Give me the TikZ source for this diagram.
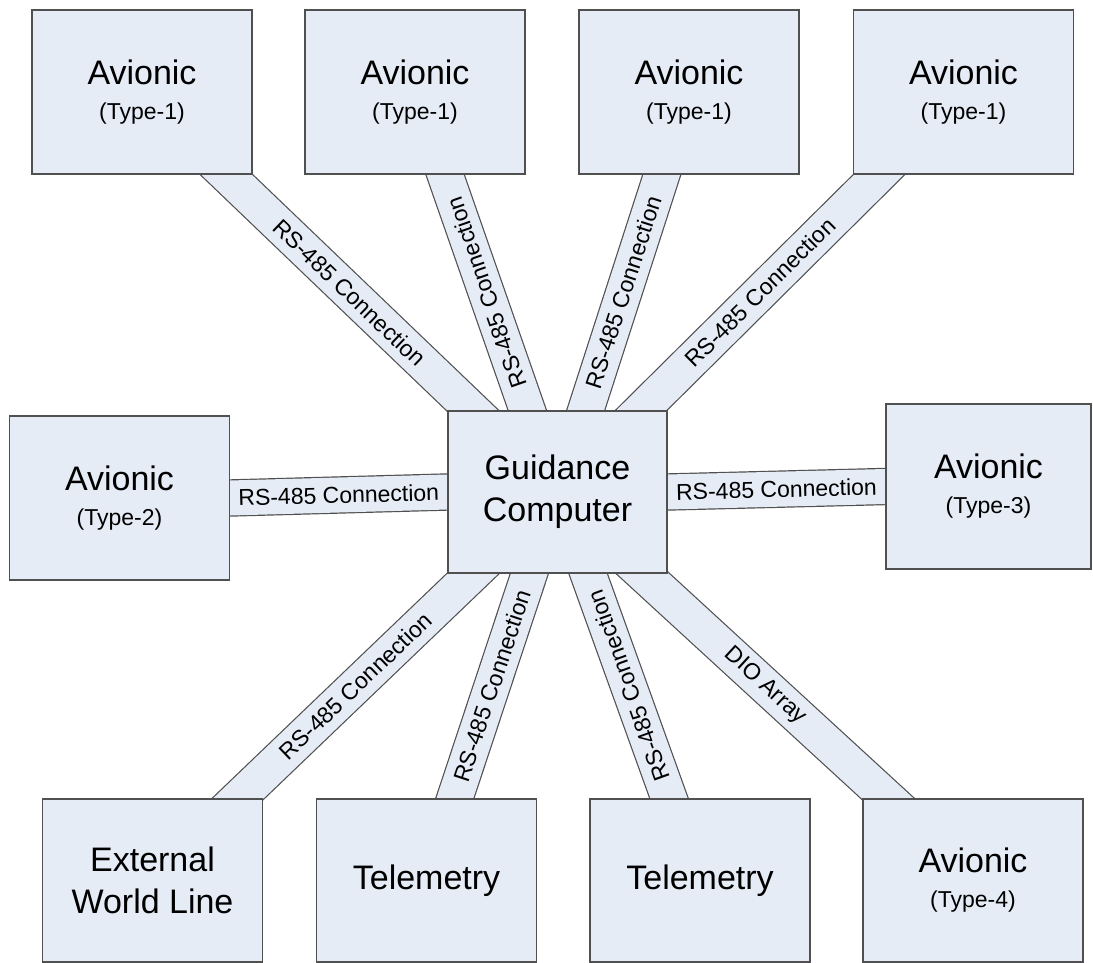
\documentclass[tikz,border=0pt]{standalone}
\usepackage{fontspec}
\setmainfont{Liberation Sans}
\usetikzlibrary{calc, backgrounds}

\definecolor{boxfill}{RGB}{230,236,246}
\definecolor{edgegray}{RGB}{80,80,80}

\newcommand{\subline}[1]{{\fontsize{23}{27}\selectfont #1}}

\begin{document}
\begin{tikzpicture}[
    x=1pt, y=-1pt,
    unit/.style={
        draw=edgegray,
        line width=1.5pt,
        fill=boxfill,
        minimum width=220pt,
        minimum height=164pt,
        inner sep=0pt,
        align=center,
        font=\fontsize{34}{40}\selectfont
    },
    twoline/.style={font=\fontsize{34}{42}\selectfont},
    bus/.style={
        draw=edgegray,
        line width=1.2pt,
        double=boxfill,
        double distance=35pt,
        shorten <=-40pt,
        shorten >=-40pt
    },
    lab/.style={
        sloped,
        font=\fontsize{23}{27}\selectfont,
        inner sep=0pt
    }
]
\useasboundingbox (0,0) rectangle (1093,963);

% ---------------- Nodes ----------------
\node[unit] (av1) at (142, 92)   {Avionic\\[-5pt]\subline{(Type-1)}};
\node[unit] (av2) at (415, 92)   {Avionic\\[-5pt]\subline{(Type-1)}};
\node[unit] (av3) at (689, 92)   {Avionic\\[-5pt]\subline{(Type-1)}};
\node[unit] (av4) at (963.5, 92) {Avionic\\[-5pt]\subline{(Type-1)}};

\node[unit] (av5) at (119.5, 498) {Avionic\\[-5pt]\subline{(Type-2)}};
\node[unit, twoline, minimum width=219pt, minimum height=162pt]
    (gc) at (557.5, 492) {Guidance\\Computer};
\node[unit, minimum width=205pt, minimum height=165pt]
    (av6) at (988.5, 486.5) {Avionic\\[-5pt]\subline{(Type-3)}};

\node[unit, twoline, minimum height=163pt] (ext)  at (152.5, 880.5) {External\\World Line};
\node[unit, minimum height=163pt]          (tel1) at (426.5, 880.5) {Telemetry};
\node[unit, minimum height=163pt]          (tel2) at (700, 880.5)   {Telemetry};
\node[unit, minimum height=163pt]          (av7)  at (973, 880.5)   {Avionic\\[-5pt]\subline{(Type-4)}};

% ---------------- Links ----------------
\begin{scope}[on background layer]
\draw[bus] ($(gc.north west)!.114!(gc.north east)$)
    -- node[lab] {RS-485 Connection} ($(av1.south west)!.882!(av1.south east)$);
\draw[bus] ($(gc.north west)!.363!(gc.north east)$)
    -- node[lab, allow upside down] {RS-485 Connection} ($(av2.south west)!.636!(av2.south east)$);
\draw[bus] ($(gc.north west)!.628!(gc.north east)$)
    -- node[lab] {RS-485 Connection} ($(av3.south west)!.377!(av3.south east)$);
\draw[bus] ($(gc.north west)!.88!(gc.north east)$)
    -- node[lab] {RS-485 Connection} ($(av4.south west)!.118!(av4.south east)$);

\draw[bus] (av5.east) -- node[lab] {RS-485 Connection} (gc.west);
\draw[bus] (gc.east) -- node[lab] {RS-485 Connection} (av6.west);

\draw[bus] ($(gc.south west)!.116!(gc.south east)$)
    -- node[lab] {RS-485 Connection} ($(ext.north west)!.888!(ext.north east)$);
\draw[bus] ($(gc.south west)!.372!(gc.south east)$)
    -- node[lab] {RS-485 Connection} ($(tel1.north west)!.628!(tel1.north east)$);
\draw[bus] ($(tel2.north west)!.36!(tel2.north east)$)
    -- node[lab, allow upside down] {RS-485 Connection} ($(gc.south west)!.639!(gc.south east)$);
\draw[bus] ($(gc.south west)!.888!(gc.south east)$)
    -- node[lab] {DIO Array} ($(av7.north west)!.114!(av7.north east)$);
\end{scope}

\end{tikzpicture}
\end{document}
